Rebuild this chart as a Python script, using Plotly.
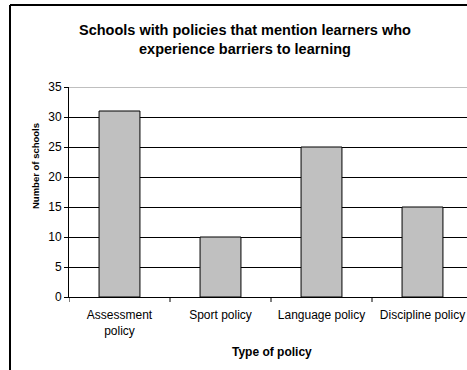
import plotly.graph_objects as go

# Policy types and number of schools whose policy mentions learners who experience barriers
policy_types = ["Assessment<br>policy", "Sport policy", "Language policy", "Discipline policy"]
school_counts = [31, 10, 25, 15]
y_ticks = [0, 5, 10, 15, 20, 25, 30, 35]

W, H = 467, 370
L, T, B = 69, 87, 73
plot_w = W - L
plot_h = H - T - B
cat_px = 101  # pixel width of one category slot

def px_x(p):
    return (p - L) / plot_w

def px_y(p):
    return (H - B - p) / plot_h

font_family = "Arial, Liberation Sans, sans-serif"

fig = go.Figure(
    go.Bar(
        x=list(range(len(policy_types))),
        y=school_counts,
        marker=dict(color="#C0C0C0", line=dict(color="#000000", width=1)),
        width=0.405,
        hoverinfo="skip",
    )
)

fig.update_layout(
    width=W,
    height=H,
    autosize=False,
    margin=dict(l=L, r=0, t=T, b=B),
    paper_bgcolor="white",
    plot_bgcolor="white",
    showlegend=False,
    font=dict(family=font_family, size=11, color="black"),
    xaxis=dict(
        tickmode="array",
        tickvals=list(range(len(policy_types))),
        ticktext=policy_types,
        range=[-0.5, -0.5 + plot_w / cat_px],
        showgrid=False,
        zeroline=False,
        showline=True,
        linecolor="black",
        linewidth=1,
        ticks="",
        ticklabelstandoff=7,
        tickfont=dict(size=12),
    ),
    yaxis=dict(
        range=[0, 35],
        tickvals=y_ticks,
        showgrid=True,
        gridcolor="black",
        gridwidth=1,
        zeroline=False,
        showline=True,
        linecolor="black",
        linewidth=1,
        ticks="outside",
        ticklen=4,
        tickcolor="black",
        tickfont=dict(size=12),
    ),
    shapes=[
        # outer chart frame
        dict(type="line", xref="paper", yref="paper",
             x0=px_x(10), x1=px_x(10), y0=px_y(5), y1=px_y(370),
             line=dict(color="black", width=2)),
        dict(type="line", xref="paper", yref="paper",
             x0=px_x(10), x1=px_x(467), y0=px_y(5), y1=px_y(5),
             line=dict(color="black", width=2)),
        # top edge of the plot area
        dict(type="line", xref="paper", yref="y",
             x0=0, x1=1, y0=35, y1=35,
             line=dict(color="#808080", width=1)),
    ] + [
        # tick marks between categories
        dict(type="line", xref="x", yref="paper",
             x0=i - 0.5, x1=i - 0.5, y0=0, y1=px_y(H - B + 5),
             line=dict(color="black", width=1))
        for i in range(len(policy_types))
    ],
    annotations=[
        dict(text="<b>Schools with policies that mention learners who<br>experience barriers to learning</b>",
             xref="paper", yref="paper", x=px_x(245), y=px_y(40),
             xanchor="center", yanchor="middle", showarrow=False,
             font=dict(size=14.5, family=font_family)),
        dict(text="<b>Number of schools</b>", textangle=-90,
             xref="paper", yref="paper", x=px_x(35), y=px_y(166),
             xanchor="center", yanchor="middle", showarrow=False,
             font=dict(size=9.5, family=font_family)),
        dict(text="<b>Type of policy</b>",
             xref="paper", yref="paper", x=px_x(272), y=px_y(352),
             xanchor="center", yanchor="middle", showarrow=False,
             font=dict(size=12, family=font_family)),
    ],
)

fig.write_html("out.html", config={"displayModeBar": False})
